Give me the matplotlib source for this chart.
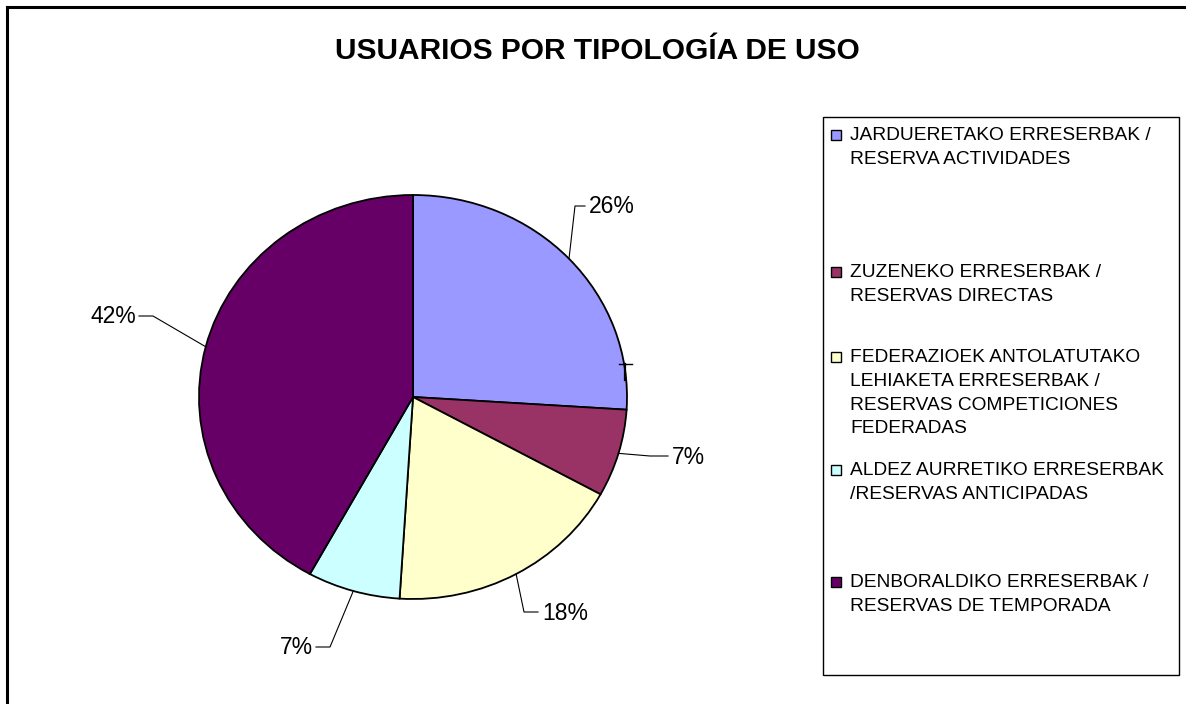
import numpy as np
import matplotlib
matplotlib.use("Agg")
import matplotlib.pyplot as plt
from matplotlib.lines import Line2D
from matplotlib.patches import Rectangle

plt.rcParams["font.family"] = ["Liberation Sans", "DejaVu Sans"]

title = "USUARIOS POR TIPOLOGÍA DE USO"
categories = [
    "JARDUERETAKO ERRESERBAK /\nRESERVA ACTIVIDADES",
    "ZUZENEKO ERRESERBAK /\nRESERVAS DIRECTAS",
    "FEDERAZIOEK ANTOLATUTAKO\nLEHIAKETA ERRESERBAK /\nRESERVAS COMPETICIONES\nFEDERADAS",
    "ALDEZ AURRETIKO ERRESERBAK\n/RESERVAS ANTICIPADAS",
    "DENBORALDIKO ERRESERBAK /\nRESERVAS DE TEMPORADA",
]
shares = [26, 7, 18, 7, 42]
colors = ["#9999FF", "#993366", "#FFFFCC", "#CCFFFF", "#660066"]

W, H = 1186, 704
fig = plt.figure(figsize=(W / 100, H / 100), dpi=100)
fig.patch.set_facecolor("white")


def px(x, y):
    # image pixel coords (y down) -> figure fraction
    return x / W, 1 - y / H


# outer chart frame (runs off the right and bottom edges)
fig.add_artist(Line2D([7 / W, 7 / W], [0, 1 - 7 / H], color="black", lw=2.2))
fig.add_artist(Line2D([7 / W, 1], [1 - 7 / H, 1 - 7 / H], color="black", lw=2.2))

fig.text(*px(597, 51), title, ha="center", va="center",
         fontsize=21.5, fontweight="bold")

# pie (slightly elliptical, as in the source)
cx, cy, rx, ry = 413, 397, 214, 202
ax = fig.add_axes([(cx - rx) / W, (H - cy - ry) / H, 2 * rx / W, 2 * ry / H])
wedges, _ = ax.pie(shares, colors=colors, startangle=90, counterclock=False,
                   radius=1, wedgeprops=dict(edgecolor="black", linewidth=1.3))
ax.set_aspect("auto")
ax.set_xlim(-1, 1)
ax.set_ylim(-1, 1)
ax.axis("off")

# small stray tick on the pie edge seen in the source
fig.add_artist(Line2D([619 / W, 632 / W], [1 - 364 / H, 1 - 364 / H], color="black", lw=1))
fig.add_artist(Line2D([625 / W, 625 / W], [1 - 364 / H, 1 - 380 / H], color="black", lw=1.6))

# data labels with leader lines
label_pos = [(575, 206, 585, "left"), (650, 456, 668, "left"),
             (524, 612, 538, "left"), (330, 647, 316, "right"),
             (153, 316, 139, "right")]
for w, val, (ex, ey, hx, ha) in zip(wedges, shares, label_pos):
    mid = np.deg2rad((w.theta1 + w.theta2) / 2)
    sx = cx + rx * np.cos(mid)
    sy = cy - ry * np.sin(mid)
    xs = [sx, ex, hx]
    ys = [sy, ey, ey]
    fig.add_artist(Line2D([x / W for x in xs], [1 - y / H for y in ys],
                          color="black", lw=0.8))
    tx = hx + 4 if ha == "left" else hx - 3
    fig.text(*px(tx, ey + 1), f"{val}%", ha=ha, va="center", fontsize=16.5)

# legend box drawn like the Excel legend
fig.add_artist(Rectangle(px(823, 675), 356 / W, 558 / H, transform=fig.transFigure,
                         facecolor="none", edgecolor="black", lw=1))
entry_y = [135, 272, 357, 470, 582]
for lab, col, ly in zip(categories, colors, entry_y):
    fig.add_artist(Rectangle(px(831, ly + 5), 10 / W, 10 / H, transform=fig.transFigure,
                             facecolor=col, edgecolor="black", lw=1))
    fig.text(*px(850, ly - 8), lab, ha="left", va="top", fontsize=13.8,
             linespacing=1.52)

fig.savefig("out.png", dpi=100)
